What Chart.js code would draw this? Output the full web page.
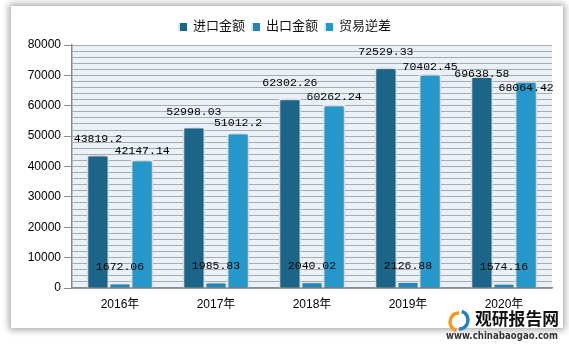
<!DOCTYPE html>
<html>
<head>
<meta charset="utf-8">
<script src="https://cdn.jsdelivr.net/npm/chart.js@4/dist/chart.umd.min.js"></script>
<style>
    body { margin: 0; background: #ffffff; }
    #wrap { position: relative; width: 569px; height: 348px; overflow: hidden; }
    #panel { position: absolute; left: 11px; top: 6px; width: 552px; height: 322px; background: #fff;
             box-shadow: 0 0 7px 2px rgba(0,0,0,0.35); }
    #grafico { position: absolute; left: 0; top: 0; }
    .leyenda { position: absolute; top: 15px; left: 0; width: 569px; text-align: center;
               font: 13px "Noto Sans CJK SC", sans-serif; color: #111; }
    .leyenda span { display: inline-block; margin: 0 3px; }
    .leyenda i { display: inline-block; width: 7px; height: 8px; margin-right: 6px; vertical-align: -1px;
                 border-left: 2px solid #dde9f2; }
</style>
</head>
<body>
<div id="wrap">
    <div id="panel"></div>
    <canvas id="grafico" width="569" height="348"></canvas>
    <div class="leyenda" id="leyenda"></div>
</div>
<script>
// datos
const anios = ["2016年", "2017年", "2018年", "2019年", "2020年"];
const series = ["进口金额", "出口金额", "贸易逆差"];
const importaciones = [43819.2, 52998.03, 62302.26, 72529.33, 69638.58];
const exportaciones = [1672.06, 1985.83, 2040.02, 2126.88, 1574.16];
const deficit = [42147.14, 51012.2, 60262.24, 70402.45, 68064.42];

const colores = ['#1B6588', '#2186BA', '#2598CB'];
// desplazamiento vertical de las etiquetas (px)
const ajusteEtiquetas = [
    [-16, -15, -16, -16, -3],
    [-16, -16, -16, -16, -16],
    [-9, -10, -8, -7, 7]
];

// leyenda en html
document.getElementById("leyenda").innerHTML = series.map((s, i) =>
    `<span><i style="background:${colores[i]}"></i>${s}</span>`).join("");

const fondoArea = {
    id: 'fondoArea',
    beforeDraw(chart) {
        const { ctx, chartArea: a } = chart;
        ctx.save();
        ctx.fillStyle = '#EBF1F8';
        ctx.fillRect(a.left, a.top, a.right - a.left, a.bottom - a.top);
        ctx.restore();
    },
    beforeDatasetsDraw(chart) {
        const ctx = chart.ctx;
        ctx.save();
        ctx.shadowColor = 'rgba(0,0,0,0.35)';
        ctx.shadowBlur = 6;
    },
    afterDatasetsDraw(chart) {
        const ctx = chart.ctx;
        ctx.restore();
        ctx.save();
        ctx.fillStyle = '#000';
        ctx.font = '11.5px "Liberation Mono", monospace';
        ctx.textAlign = 'center';
        ctx.textBaseline = 'middle';
        chart.data.datasets.forEach((ds, i) => {
            chart.getDatasetMeta(i).data.forEach((barra, j) => {
                const v = ds.data[j];
                ctx.fillText(String(v), barra.x, barra.y + ajusteEtiquetas[i][j]);
            });
        });
        ctx.restore();
    },
    afterDraw(chart) {
        // marca de agua
        const ctx = chart.ctx;
        ctx.save();
        ctx.lineWidth = 3.5;
        ctx.strokeStyle = '#F39A1E';
        ctx.beginPath();
        ctx.arc(459, 322, 9, Math.PI * 0.6, Math.PI * 1.5);
        ctx.stroke();
        ctx.strokeStyle = '#2A7FC0';
        ctx.beginPath();
        ctx.arc(459, 320, 9, Math.PI * 1.6, Math.PI * 0.5);
        ctx.stroke();
        ctx.fillStyle = '#111';
        ctx.font = 'bold 17px "Noto Sans CJK SC", sans-serif';
        ctx.textBaseline = 'middle';
        ctx.fillText('观研报告网', 475, 319, 84);
        ctx.fillStyle = '#333';
        ctx.font = 'bold 11px "DejaVu Sans", sans-serif';
        ctx.fillText('www.chinabaogao.com', 446, 336, 112);
        ctx.restore();
    }
};

const ctx = document.getElementById("grafico").getContext("2d");
const grafico = new Chart(ctx, {
    type: 'bar',
    data: {
        labels: anios,
        datasets: [importaciones, exportaciones, deficit].map((d, i) => ({
            label: series[i],
            data: d,
            backgroundColor: colores[i],
            borderColor: '#ffffff',
            borderWidth: 1.5,
            categoryPercentage: 0.69,
            barPercentage: 1
        }))
    },
    options: {
        responsive: false,
        animation: false,
        layout: { padding: { top: 45, right: 17, left: 0, bottom: 0 } },
        plugins: {
            legend: { display: false },
            tooltip: { enabled: false }
        },
        scales: {
            x: {
                grid: { display: false },
                border: { color: '#8a8a8a', width: 1.5 },
                ticks: {
                    color: '#000',
                    padding: 1,
                    font: { family: '"Liberation Sans", "Noto Sans CJK SC"', size: 12 }
                },
                afterFit: (s) => { s.height = 60; }
            },
            y: {
                min: 0,
                max: 80000,
                grid: {
                    color: '#ABABAB',
                    lineWidth: 1,
                    tickLength: 8,
                    tickColor: (c) => (c.tick && c.tick.value % 10000 === 0) ? '#8a8a8a' : 'rgba(0,0,0,0)'
                },
                border: { color: '#8a8a8a', width: 1.5 },
                ticks: {
                    stepSize: 2000,
                    autoSkip: false,
                    color: '#000',
                    padding: 3,
                    font: { family: '"Liberation Sans"', size: 12 },
                    callback: (v) => v % 10000 === 0 ? v : ''
                },
                afterFit: (s) => { s.width = 72; }
            }
        }
    },
    plugins: [fondoArea]
});
</script>
</body>
</html>
